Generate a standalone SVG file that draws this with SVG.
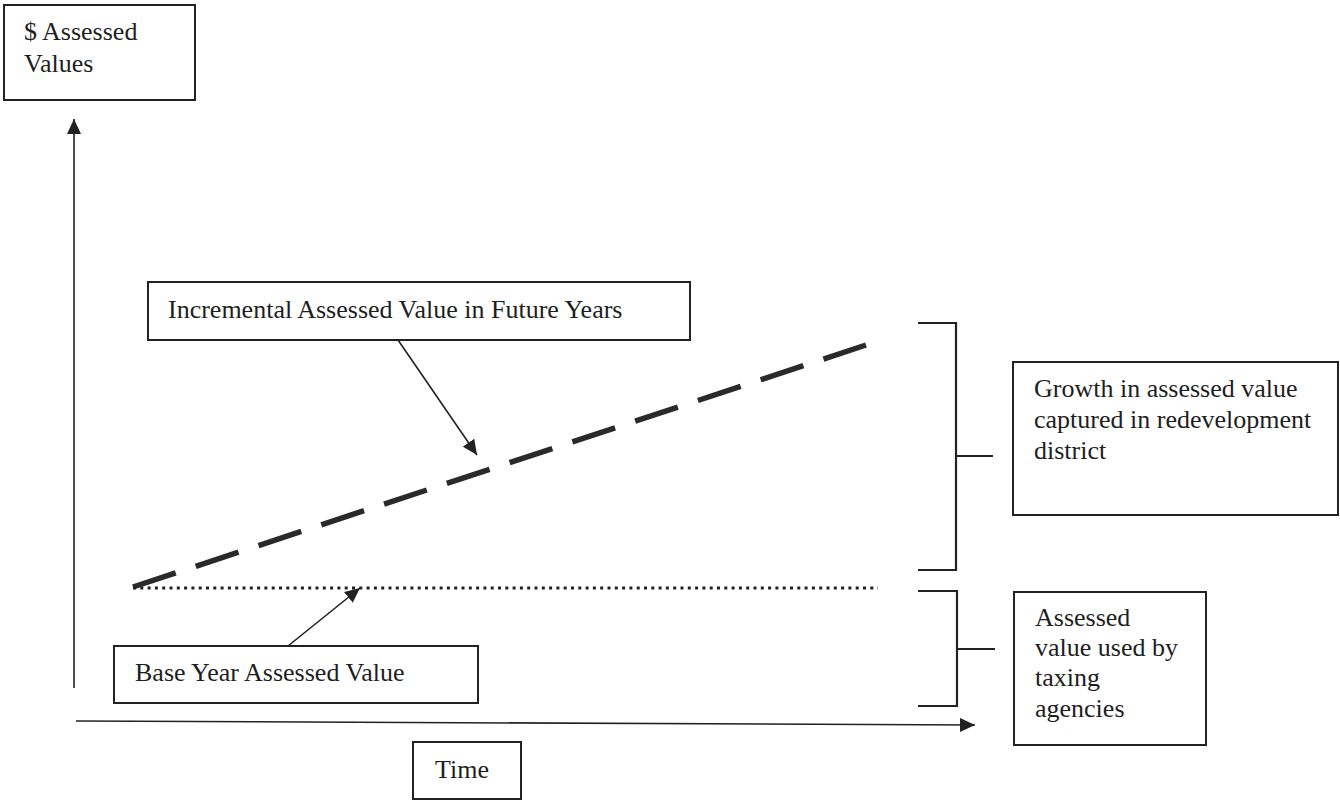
<svg xmlns="http://www.w3.org/2000/svg" width="1340" height="800" viewBox="0 0 1340 800">
<defs>
<marker id="ah" markerUnits="userSpaceOnUse" markerWidth="16" markerHeight="14" refX="15" refY="7" orient="auto">
<path d="M0,0 L15,7 L0,14 z" fill="#222"/>
</marker>
<style>
.box{fill:#fff;stroke:#222;stroke-width:2}
.t{font-family:"Liberation Serif","Times New Roman",serif;font-size:26px;fill:#1e1e1e}
.ln{stroke:#222;stroke-width:1.6;fill:none}
.br{stroke:#222;stroke-width:2.2;fill:none}
</style>
</defs>
<rect width="1340" height="800" fill="#fff"/>
<g id="connectors">
<line class="ln" x1="74" y1="688" x2="74" y2="119" marker-end="url(#ah)"/>
<line class="ln" x1="76" y1="721" x2="975" y2="725" marker-end="url(#ah)"/>
<line x1="133" y1="587" x2="866" y2="345" stroke="#2a2a2a" stroke-width="5.5" stroke-dasharray="45 21.1"/>
<line x1="133" y1="588" x2="878" y2="588" stroke="#222" stroke-width="3" stroke-dasharray="3 4.3"/>
<line class="ln" x1="398" y1="340" x2="477" y2="455" marker-end="url(#ah)"/>
<line class="ln" x1="288" y1="646" x2="360" y2="588" marker-end="url(#ah)"/>
<path class="br" d="M918,323 H956 V570 H918 M956,456 H993"/>
<path class="br" d="M918,591 H957 V706 H918 M957,649 H995"/>
</g>
<g id="y-label">
<rect class="box" x="4" y="5" width="191" height="95"/>
<text class="t" x="24" y="40">$ Assessed</text>
<text class="t" x="24" y="72">Values</text>
</g>
<g id="incremental">
<rect class="box" x="148" y="282" width="542" height="58"/>
<text class="t" x="168" y="318">Incremental Assessed Value in Future Years</text>
</g>
<g id="base-year">
<rect class="box" x="114" y="646" width="364" height="57"/>
<text class="t" x="135" y="681">Base Year Assessed Value</text>
</g>
<g id="time">
<rect class="box" x="413" y="742" width="108" height="57"/>
<text class="t" x="435" y="778">Time</text>
</g>
<g id="growth">
<rect class="box" x="1013" y="362" width="325" height="153"/>
<text class="t" x="1034" y="397">Growth in assessed value</text>
<text class="t" x="1034" y="428">captured in redevelopment</text>
<text class="t" x="1034" y="459">district</text>
</g>
<g id="taxing">
<rect class="box" x="1014" y="592" width="192" height="153"/>
<text class="t" x="1035" y="626">Assessed</text>
<text class="t" x="1035" y="656">value used by</text>
<text class="t" x="1035" y="686">taxing</text>
<text class="t" x="1035" y="717">agencies</text>
</g>
</svg>
